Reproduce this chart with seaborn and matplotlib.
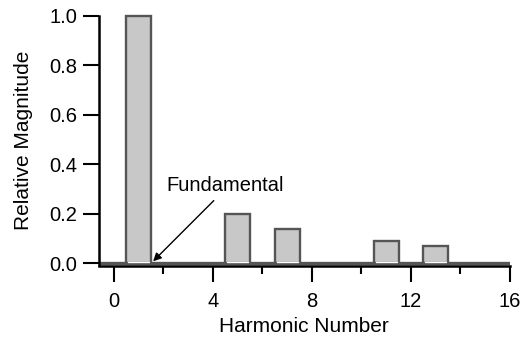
import numpy as np
import matplotlib
matplotlib.use("Agg")
import matplotlib.pyplot as plt
import seaborn as sns
from matplotlib.ticker import MultipleLocator, FormatStrFormatter

# Data
harmonics = [1, 5, 7, 11, 13]
magnitudes = [1.0, 0.2, 0.14, 0.09, 0.07]
x_ticks = [0, 4, 8, 12, 16]
y_ticks = [0.0, 0.2, 0.4, 0.6, 0.8, 1.0]
annotation_text = "Fundamental"

sns.set_style("ticks")
plt.rcParams["font.family"] = ["Liberation Sans", "DejaVu Sans"]
plt.rcParams["text.color"] = "black"
plt.rcParams["axes.labelcolor"] = "black"

fig = plt.figure(figsize=(5.21, 3.37), dpi=100)
ax = fig.add_axes([98.5 / 521, 1 - 265.5 / 337, 411.5 / 521, 249.5 / 337])

edge = "#555555"
fill = "#c8c8c8"

# baseline at zero
ax.axhline(0, color=edge, lw=2.4, zorder=1, solid_capstyle="butt")

bar_width = 1.0 / np.min(np.diff(harmonics))
sns.barplot(x=harmonics, y=magnitudes, native_scale=True, width=bar_width,
            color=fill, saturation=1, edgecolor=edge, linewidth=1.7,
            ax=ax, zorder=2)
for p in ax.patches:
    p.set_clip_on(False)

# white strip at bottom of each bar
for h in harmonics:
    ax.plot([h - 0.42, h + 0.42], [0.006, 0.006], color="white", lw=1, zorder=3)

ax.set_xlim(-0.626, 16)
ax.set_ylim(-0.009, 1.0)
ax.set_xticks(x_ticks)
ax.xaxis.set_minor_locator(MultipleLocator(2))
ax.set_yticks(y_ticks)
ax.yaxis.set_major_formatter(FormatStrFormatter("%.1f"))

for s in ["top", "right"]:
    ax.spines[s].set_visible(False)
for s in ["left", "bottom"]:
    ax.spines[s].set_linewidth(1.8)
    ax.spines[s].set_color("black")

ax.tick_params(axis="both", which="major", length=11.5, width=1.5, labelsize=14.5,
               color="black", labelcolor="black")
ax.tick_params(axis="x", which="major", pad=7.5)
ax.tick_params(axis="y", which="major", pad=4)
ax.tick_params(axis="x", which="minor", length=5.5, width=1.5, color="black")

ax.set_xlabel("Harmonic Number", fontsize=15, labelpad=4.5, color="black")
ax.set_ylabel("Relative Magnitude", fontsize=15, labelpad=11.5, color="black")

ax.annotate(annotation_text, xy=(1.58, 0.008), xytext=(4.48, 0.313),
            ha="center", va="center", fontsize=14.5, color="black",
            arrowprops=dict(arrowstyle="-|>", color="black", lw=1,
                            mutation_scale=12, shrinkA=2, shrinkB=0,
                            relpos=(0.45, 0.0)), zorder=5)

fig.savefig("out.png", dpi=100)
